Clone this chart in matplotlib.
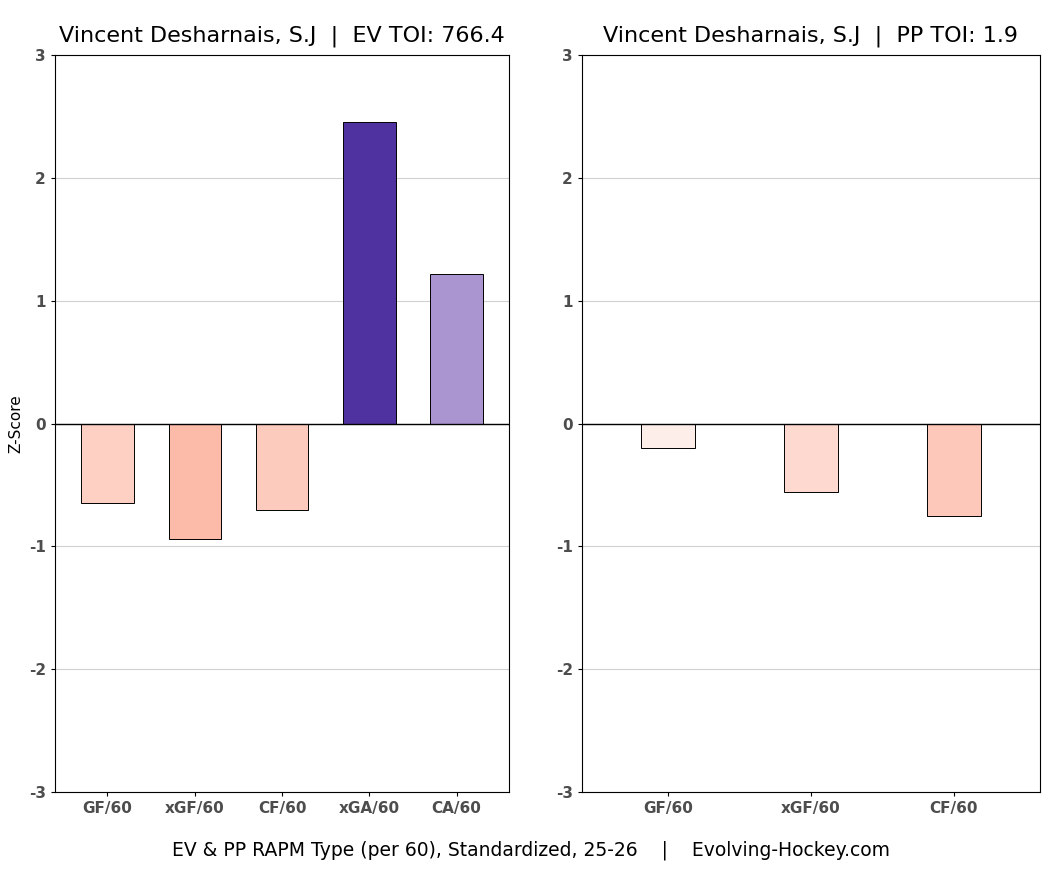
import matplotlib.pyplot as plt

# data
ev_labels = ['GF/60', 'xGF/60', 'CF/60', 'xGA/60', 'CA/60']
ev_values = [-0.65, -0.94, -0.70, 2.46, 1.22]
ev_colors = ['#fdd0c3', '#fcbaa8', '#fdcbbd', '#4f31a0', '#ab95d1']

pp_labels = ['GF/60', 'xGF/60', 'CF/60']
pp_values = [-0.20, -0.56, -0.75]
pp_colors = ['#fdeeea', '#fdd9cf', '#fdc8b9']

fig = plt.figure(figsize=(10.62, 8.75), dpi=100)
ax1 = fig.add_axes([0.0518, 0.0949, 0.4275, 0.842])
ax2 = fig.add_axes([0.548, 0.0949, 0.431, 0.842])


def draw(ax, labels, values, colors, width, title):
    x = list(range(1, len(labels) + 1))
    ax.set_axisbelow(True)
    ax.grid(axis='y', color='#d0d0d0', linewidth=0.8)
    ax.bar(x, values, width=width, color=colors, edgecolor='black', linewidth=0.7)
    ax.axhline(0, color='black', linewidth=1)
    ax.set_xlim(0.4, len(labels) + 0.6)
    ax.set_ylim(-3, 3)
    ax.set_xticks(x)
    ax.set_xticklabels(labels, fontsize=11, fontweight='bold', color='#4d4d4d')
    ax.set_yticks(range(-3, 4))
    ax.set_yticklabels([str(v) for v in range(-3, 4)], fontsize=11,
                       fontweight='bold', color='#4d4d4d')
    ax.tick_params(length=3)
    ax.set_title(title, fontsize=16, pad=10)


draw(ax1, ev_labels, ev_values, ev_colors, 0.6,
     'Vincent Desharnais, S.J  |  EV TOI: 766.4')
draw(ax2, pp_labels, pp_values, pp_colors, 0.38,
     'Vincent Desharnais, S.J  |  PP TOI: 1.9')
ax1.set_ylabel('Z-Score', fontsize=11)

fig.text(0.5, 0.022, 'EV & PP RAPM Type (per 60), Standardized, 25-26    |    Evolving-Hockey.com',
         ha='center', fontsize=13.5)

fig.savefig('out.png', dpi=100)
